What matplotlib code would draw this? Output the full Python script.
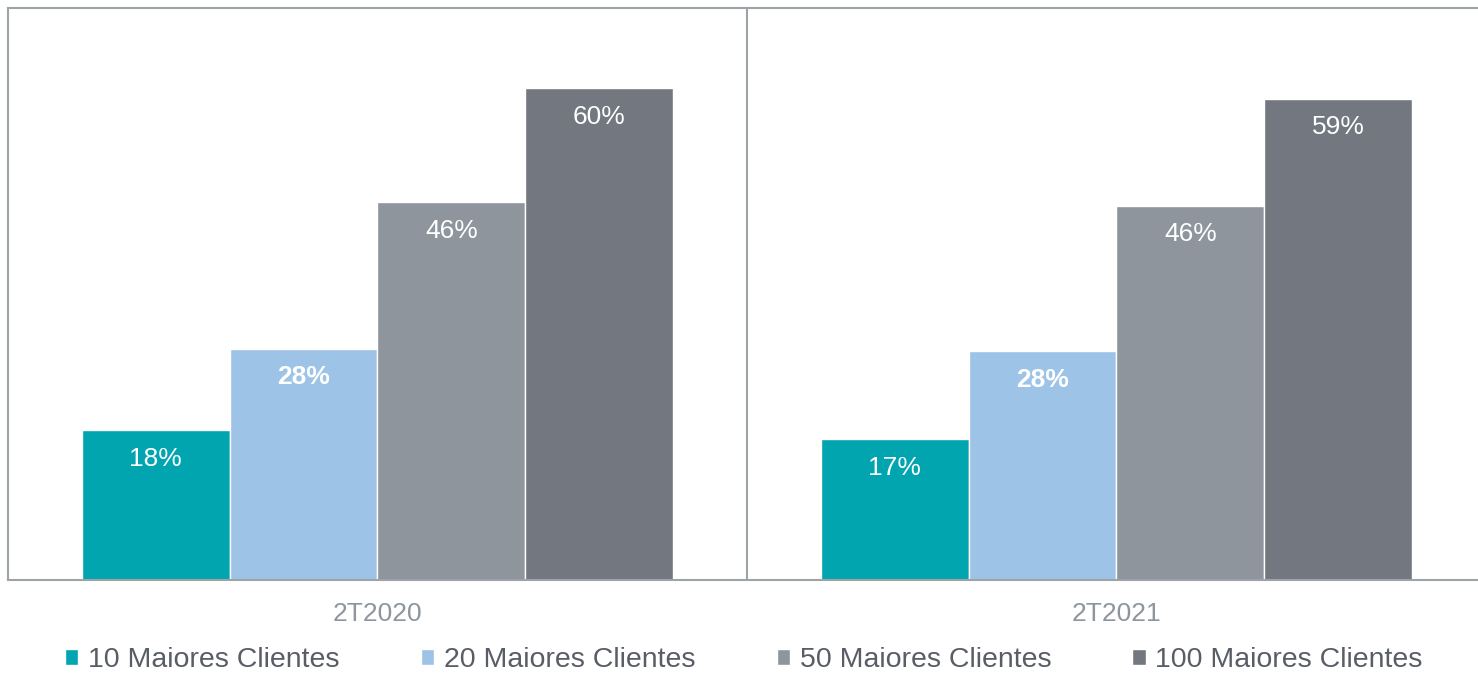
import matplotlib
matplotlib.use("Agg")
import matplotlib.pyplot as plt
import numpy as np

plt.rcParams['font.family'] = ['Liberation Sans', 'DejaVu Sans']

categories = ["2T2020", "2T2021"]
series = ["10 Maiores Clientes", "20 Maiores Clientes", "50 Maiores Clientes", "100 Maiores Clientes"]
values = [
    [18.3, 17.2],
    [28.3, 28.0],
    [46.2, 45.8],
    [60.2, 58.9],
]
labels = [
    ["18%", "17%"],
    ["28%", "28%"],
    ["46%", "46%"],
    ["60%", "59%"],
]
colors = ["#00A5B0", "#9DC3E6", "#8E959D", "#737780"]
bold = [False, True, False, False]

fig = plt.figure(figsize=(14.78, 6.74), dpi=100)
ax = fig.add_axes([8/1478, 1-580/674, (1486-8)/1478, (580-8)/674])

frame = "#9EA3A8"
x = np.arange(len(categories))
w = 0.2
bars_all = []
for i, (s, v) in enumerate(zip(series, values)):
    pos = x + (i - 1.5) * w
    bars = ax.bar(pos, v, width=w, color=colors[i], edgecolor="white", linewidth=1, label=s)
    bars_all.append(bars)
    for b, lab in zip(bars, labels[i]):
        ax.annotate(lab, (b.get_x() + b.get_width()/2, b.get_height()),
                    xytext=(0, -20.5), textcoords="offset points",
                    ha="center", va="center", color="white", fontsize=19,
                    fontweight="bold" if bold[i] else "normal")

ax.set_xlim(-0.5, 1.5)
ax.set_ylim(0, 70)
ax.axvline(0.5, color=frame, linewidth=1.5)
ax.set_yticks([])
ax.set_xticks(x)
ax.set_xticklabels(categories, fontsize=19, color="#8E959D")
ax.tick_params(axis="x", length=0, pad=16)
for sp in ["left", "top", "bottom", "right"]:
    ax.spines[sp].set_color(frame)
    ax.spines[sp].set_linewidth(1.5)

leg = fig.legend(handles=bars_all, labels=series, loc="center",
                 bbox_to_anchor=(744/1478, 1-660/674), ncol=4, frameon=False,
                 fontsize=20.5, handlelength=0.46, handleheight=0.46,
                 handletextpad=0.35, columnspacing=2.85, labelcolor="#595D66",
                 borderaxespad=0, borderpad=0)

fig.savefig("out.png", dpi=100)
